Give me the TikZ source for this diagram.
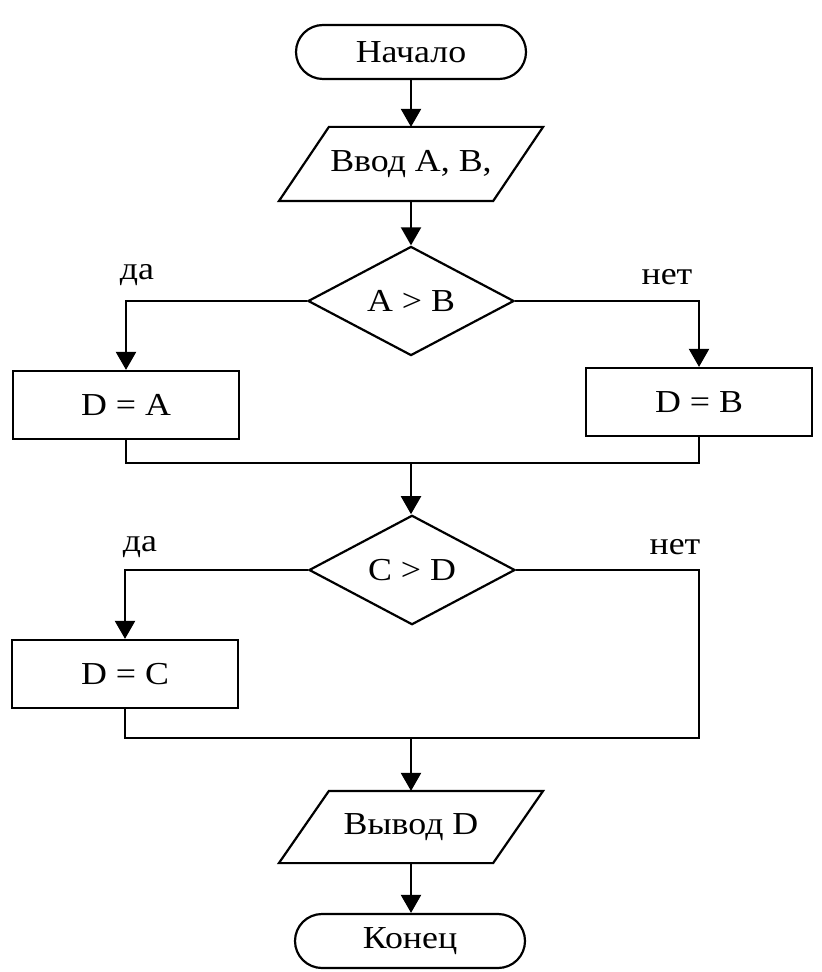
\documentclass[tikz,border=0pt]{standalone}
\usepackage{fontspec}
\setmainfont[FakeStretch=1.12]{Liberation Serif}
\usetikzlibrary{shapes.geometric,arrows.meta}
\begin{document}
\begin{tikzpicture}[x=0.5pt,y=-0.5pt, line width=1.1pt,
  font=\fontsize{16}{19}\selectfont,
  term/.style={draw, rounded corners=13.5pt, minimum width=115pt, minimum height=27pt, inner sep=0pt},
  io/.style={minimum width=106pt, minimum height=36pt, inner sep=0pt},
  proc/.style={draw, minimum width=113pt, minimum height=34pt, inner sep=0pt},
  dec/.style={draw, diamond, minimum width=103pt, minimum height=51.5pt, inner sep=0pt},
  arr/.style={-{Triangle[length=9pt,width=10pt]}},
  lbl/.style={inner sep=0pt}]
\useasboundingbox (0,0) rectangle (821,972);
\fill[white] (0,0) rectangle (821,972);

\node[term] (start) at (411,52) {Начало};
\node[io] (inp) at (411,164) {Ввод A, B,};
\node[dec] (d1) at (411,301) {A > B};
\node[proc] (pa) at (126,405) {D = A};
\node[proc] (pb) at (699,402) {D = B};
\coordinate (m1) at (411,463);
\node[dec] (d2) at (412,570) {C > D};
\node[proc] (pc) at (125,674) {D = C};
\coordinate (m2) at (411,738);
\coordinate (r2) at (699,738);
\node[io, minimum height=35pt] (out) at (411,827) {Вывод D};
\node[term] (end) at (410,941) {Конец};

\foreach \n in {inp,out}
  \draw ([xshift=12.5pt]\n.north west) -- ([xshift=12.5pt]\n.north east)
        -- ([xshift=-12.5pt]\n.south east) -- ([xshift=-12.5pt]\n.south west) -- cycle;

\node[lbl] (l1) at (137,275) {да};
\node[lbl] (l2) at (667,277) {нет};
\node[lbl] (l3) at (140,547) {да};
\node[lbl] (l4) at (675,547) {нет};

\draw[arr] (start.south) -- (start.south |- inp.north);
\draw[arr] (inp.south) -- (inp.south |- d1.north);
\draw[arr] (d1.west) -| (pa.north);
\draw[arr] (d1.east) -| (pb.north);
\draw (pa.south) |- (m1) -| (pb.south);
\draw[arr] (m1) -- (m1 |- d2.north);
\draw[arr] (d2.west) -| (pc.north);
\draw (pc.south) |- (r2) |- (d2.east);
\draw[arr] (m2) -- (m2 |- out.north);
\draw[arr] (out.south) -- (out.south |- end.north);
\end{tikzpicture}
\end{document}
